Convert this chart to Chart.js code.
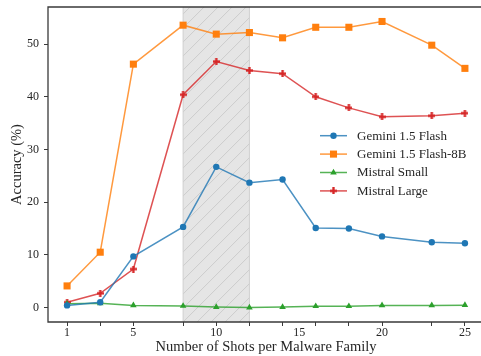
<!DOCTYPE html>
<html>
<head>
<meta charset="utf-8">
<script src="https://cdn.jsdelivr.net/npm/chart.js@4.4.0/dist/chart.umd.min.js"></script>
<style>
  html, body { margin: 0; padding: 0; background: #fff; overflow: hidden; }
  #wrap { width: 481px; height: 356px; }
</style>
</head>
<body>
<div id="wrap"><canvas id="accChart" width="481" height="356"></canvas></div>
<script>
// data
const shots = [1, 3, 5, 8, 10, 12, 14, 16, 18, 20, 23, 25];
const geminiFlash = [0.4, 1.0, 9.7, 15.3, 26.7, 23.7, 24.3, 15.1, 15.0, 13.5, 12.4, 12.2];
const geminiFlash8B = [4.1, 10.5, 46.2, 53.6, 51.9, 52.2, 51.2, 53.2, 53.2, 54.3, 49.8, 45.4];
const mistralSmall = [0.7, 0.8, 0.4, 0.3, 0.1, 0.0, 0.1, 0.25, 0.25, 0.4, 0.4, 0.45];
const mistralLarge = [1.0, 2.7, 7.3, 40.4, 46.7, 45.0, 44.4, 40.0, 37.9, 36.2, 36.4, 36.9];
const seriesNames = ["Gemini 1.5 Flash", "Gemini 1.5 Flash-8B", "Mistral Small", "Mistral Large"];
const xTickLabels = [1, 5, 10, 15, 20, 25];
const yTickValues = [0, 10, 20, 30, 40, 50];
const shadedRange = [8, 12];

const FONT = "'Liberation Serif', 'DejaVu Serif', serif";
const TEXT = "#262626";

// matplotlib style filled plus marker ('P')
function plusMarker(color, size) {
  const c = document.createElement("canvas");
  c.width = size; c.height = size;
  const g = c.getContext("2d");
  g.fillStyle = color;
  const a = size / 3;
  g.fillRect(a, 0, a, size);
  g.fillRect(0, a, size, a);
  return c;
}

const colors = ["#1f77b4", "#ff7f0e", "#2ca02c", "#d62728"];
const lineColors = ["rgba(31,119,180,0.8)", "rgba(255,127,14,0.8)", "rgba(44,160,44,0.8)", "rgba(214,39,40,0.8)"];
const styles = ["circle", "rect", "triangle", plusMarker("#d62728", 7)];
const radii = [3.2, 5, 3.8, 4];
const values = [geminiFlash, geminiFlash8B, mistralSmall, mistralLarge];

const datasets = values.map((vals, i) => ({
  label: seriesNames[i],
  data: shots.map((x, j) => ({ x: x, y: vals[j] })),
  borderColor: lineColors[i],
  backgroundColor: colors[i],
  pointBackgroundColor: colors[i],
  pointBorderColor: colors[i],
  pointBorderWidth: 0,
  pointStyle: styles[i],
  pointRadius: radii[i],
  borderWidth: 1.5,
  tension: 0
}));

function drawMarker(ctx, ds, x, y) {
  const st = ds.pointStyle, r = ds.pointRadius;
  ctx.fillStyle = ds.pointBackgroundColor;
  if (st instanceof HTMLCanvasElement) {
    ctx.drawImage(st, x - st.width / 2, y - st.height / 2);
  } else if (st === "circle") {
    ctx.beginPath(); ctx.arc(x, y, r, 0, Math.PI * 2); ctx.fill();
  } else if (st === "rect") {
    const s = r * Math.SQRT1_2;
    ctx.fillRect(x - s, y - s, 2 * s, 2 * s);
  } else if (st === "triangle") {
    ctx.beginPath();
    ctx.moveTo(x, y - r);
    ctx.lineTo(x + r * 0.866, y + r * 0.5);
    ctx.lineTo(x - r * 0.866, y + r * 0.5);
    ctx.closePath(); ctx.fill();
  }
}

const decor = {
  id: "decor",
  beforeDatasetsDraw(chart) {
    const { ctx, chartArea: a, scales: { x } } = chart;
    const x0 = x.getPixelForValue(shadedRange[0]);
    const x1 = x.getPixelForValue(shadedRange[1]);
    ctx.save();
    ctx.fillStyle = "#e5e5e5";
    ctx.fillRect(x0, a.top, x1 - x0, a.bottom - a.top);
    ctx.beginPath();
    ctx.rect(x0, a.top, x1 - x0, a.bottom - a.top);
    ctx.clip();
    ctx.strokeStyle = "#c4c4c4";
    ctx.lineWidth = 0.8;
    const h = a.bottom - a.top;
    for (let k = -Math.ceil(h / 14) - 2; k < 20; k++) {
      const sx = x0 + k * 14;
      ctx.beginPath();
      ctx.moveTo(sx, a.bottom);
      ctx.lineTo(sx + h, a.top);
      ctx.stroke();
    }
    ctx.restore();
    ctx.save();
    ctx.strokeStyle = "#d0d0d0";
    ctx.lineWidth = 1;
    ctx.beginPath();
    ctx.moveTo(x0, a.top); ctx.lineTo(x0, a.bottom);
    ctx.moveTo(x1, a.top); ctx.lineTo(x1, a.bottom);
    ctx.stroke();
    ctx.restore();
  },
  afterDatasetsDraw(chart) {
    // left, top and bottom spines (right one falls just outside the picture)
    const { ctx, chartArea: a } = chart;
    ctx.save();
    ctx.strokeStyle = "#3a3a3a";
    ctx.lineWidth = 1.3;
    ctx.beginPath();
    ctx.moveTo(a.right + 2, a.top);
    ctx.lineTo(a.left, a.top);
    ctx.lineTo(a.left, a.bottom);
    ctx.lineTo(a.right + 2, a.bottom);
    ctx.stroke();
    ctx.restore();
  },
  afterDraw(chart) {
    const { ctx, chartArea: a } = chart;
    ctx.save();
    // axis titles
    ctx.fillStyle = TEXT;
    ctx.font = "14.5px " + FONT;
    ctx.textAlign = "center";
    ctx.textBaseline = "middle";
    ctx.fillText("Number of Shots per Malware Family", 266, 347);
    ctx.translate(17, (a.top + a.bottom) / 2);
    ctx.rotate(-Math.PI / 2);
    ctx.fillText("Accuracy (%)", 0, 0);
    ctx.restore();

    // legend
    ctx.save();
    chart.data.datasets.forEach((ds, i) => {
      const y = 135.7 + i * 18.4;
      ctx.strokeStyle = ds.borderColor;
      ctx.lineWidth = 1.5;
      ctx.beginPath();
      ctx.moveTo(320, y); ctx.lineTo(347, y);
      ctx.stroke();
      drawMarker(ctx, ds, 333.5, y);
      ctx.fillStyle = TEXT;
      ctx.font = "13px " + FONT;
      ctx.textAlign = "left";
      ctx.textBaseline = "middle";
      ctx.fillText(ds.label, 357, y + 0.5);
    });
    ctx.restore();
  }
};

new Chart(document.getElementById("accChart"), {
  type: "line",
  data: { datasets },
  plugins: [decor],
  options: {
    responsive: false,
    animation: false,
    layout: { autoPadding: false, padding: { top: 7, right: 0, left: 0, bottom: 0 } },
    plugins: { legend: { display: false }, tooltip: { enabled: false } },
    scales: {
      x: {
        type: "linear",
        min: -0.15,
        max: 25.97,
        afterFit: (s) => { s.height = 34; s.paddingLeft = 0; s.paddingRight = 0; },
        afterBuildTicks: (s) => {
          const vals = Array.from(new Set([...shots, ...xTickLabels])).sort((a, b) => a - b);
          s.ticks = vals.map(v => ({ value: v }));
        },
        border: { display: false },
        grid: {
          drawOnChartArea: false,
          drawTicks: true,
          tickLength: 4,
          lineWidth: 1,
          color: (c) => (c.tick && shots.includes(c.tick.value)) ? "#3a3a3a" : "rgba(0,0,0,0)"
        },
        ticks: {
          autoSkip: false,
          maxRotation: 0,
          padding: 0,
          color: TEXT,
          font: { family: FONT, size: 12 },
          callback: (v) => xTickLabels.includes(v) ? String(v) : ""
        }
      },
      y: {
        min: -2.75,
        max: 57.05,
        afterFit: (s) => { s.width = 48; s.paddingTop = 0; s.paddingBottom = 0; },
        afterBuildTicks: (s) => { s.ticks = yTickValues.map(v => ({ value: v })); },
        border: { display: false },
        grid: {
          drawOnChartArea: false,
          drawTicks: true,
          tickLength: 4,
          lineWidth: 1,
          color: "#3a3a3a"
        },
        ticks: {
          padding: 5,
          color: TEXT,
          font: { family: FONT, size: 12 }
        }
      }
    }
  }
});
</script>
</body>
</html>
